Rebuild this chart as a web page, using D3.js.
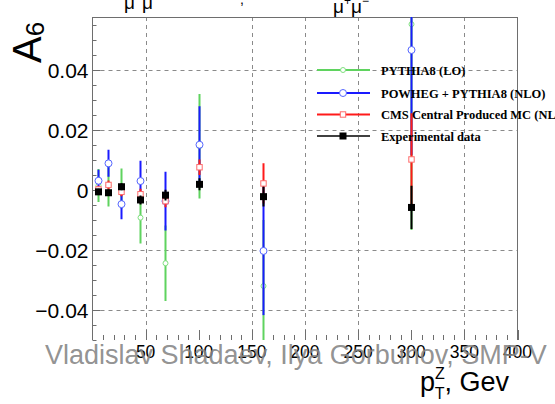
<!DOCTYPE html>
<html>
<head>
<meta charset="utf-8">
<script src="https://cdn.jsdelivr.net/npm/d3@7"></script>
<style>
  html, body { margin: 0; padding: 0; background: #fff; }
  svg { display: block; }
</style>
</head>
<body>
<svg id="chart" width="555" height="404"></svg>
<script>
// pT(Z) bin centres, GeV
const ptBins = [5, 15, 27, 45, 68, 100, 160, 300];

// A6 per bin with symmetric uncertainties
const pythiaA6  = [0.0015, 0.0015, 0.0005, -0.0092, -0.0244, 0.0146, -0.0320, 0.0553];
const pythiaErr = [0.0055, 0.0070, 0.0067, 0.0086, 0.0126, 0.0174, 0.0220, 0.0686];
const powhegA6  = [0.0031, 0.0089, -0.0047, 0.0030, -0.0037, 0.0151, -0.0203, 0.0467];
const powhegErr = [0.0037, 0.0045, 0.0050, 0.0068, 0.0098, 0.0128, 0.0214, 0.0350];
const cmsA6     = [0.0002, 0.0017, -0.0006, -0.0014, -0.0037, 0.0076, 0.0022, 0.0102];
const cmsErr    = [0.0012, 0.0015, 0.0015, 0.0018, 0.0020, 0.0026, 0.0067, 0.0154];
const dataA6    = [-0.0006, -0.0009, 0.0011, -0.0033, -0.0017, 0.0019, -0.0022, -0.0058];
const dataErr   = [0.0010, 0.0010, 0.0012, 0.0015, 0.0018, 0.0020, 0.0033, 0.0072];

const seriesNames = ["PYTHIA8 (LO)", "POWHEG + PYTHIA8 (NLO)", "CMS Central Produced MC (NLO)", "Experimental data"];

// axis ticks and labels
const xTickValues = [50, 100, 150, 200, 250, 300, 350, 400];
const xTickLabels = ["50", "100", "150", "200", "250", "300", "350", "400"];
const yTickValues = [0.04, 0.02, 0, -0.02, -0.04];
const yTickLabels = ["0.04", "0.02", "0", "\u22120.02", "\u22120.04"];
const xGridValues = [50, 150, 200, 250, 350];
const yGridValues = [0.04, 0.02, -0.02, -0.04];

const svg = d3.select("#chart");
const W = 555, H = 404;
svg.append("rect").attr("width", W).attr("height", H).attr("fill", "#fff");

const frame = { left: 92.5, right: 517.5, top: 17, bottom: 340 };
const x = d3.scaleLinear().domain([0, 400]).range([frame.left, frame.right]);
const y = d3.scaleLinear().domain([-0.05, 0.0577]).range([frame.bottom, frame.top]);

const sans = "'Liberation Sans', Arial, Helvetica, sans-serif";
const serif = "'Liberation Serif', 'Times New Roman', serif";

// grid
const grid = svg.append("g").attr("stroke", "#8a8a8a").attr("stroke-width", 1)
  .attr("stroke-dasharray", "4,4").attr("fill", "none");
grid.selectAll("line.gx").data(xGridValues).join("line")
  .attr("x1", d => Math.round(x(d)) + 0.5).attr("x2", d => Math.round(x(d)) + 0.5)
  .attr("y1", frame.top).attr("y2", frame.bottom);
grid.selectAll("line.gy").data(yGridValues).join("line")
  .attr("y1", d => Math.round(y(d)) + 0.5).attr("y2", d => Math.round(y(d)) + 0.5)
  .attr("x1", frame.left).attr("x2", frame.right);

// frame
const axisColor = "#6e6e6e";
svg.append("line").attr("x1", frame.left).attr("x2", frame.right)
  .attr("y1", frame.top + 0.5).attr("y2", frame.top + 0.5).attr("stroke", axisColor);
svg.append("line").attr("x1", frame.left).attr("x2", frame.left)
  .attr("y1", frame.top).attr("y2", frame.bottom).attr("stroke", axisColor);
svg.append("line").attr("x1", frame.right).attr("x2", frame.right)
  .attr("y1", frame.top).attr("y2", frame.bottom).attr("stroke", axisColor);

// y ticks (inward)
const yMinor = d3.range(-0.05, 0.0577, 0.005).filter(v => !yTickValues.some(t => Math.abs(t - v) < 1e-9));
svg.append("g").selectAll("line").data(yMinor).join("line")
  .attr("x1", frame.left).attr("x2", frame.left + 4)
  .attr("y1", d => Math.round(y(d)) + 0.5).attr("y2", d => Math.round(y(d)) + 0.5)
  .attr("stroke", axisColor);
svg.append("g").selectAll("line").data(yTickValues).join("line")
  .attr("x1", frame.left).attr("x2", frame.left + 8)
  .attr("y1", d => Math.round(y(d)) + 0.5).attr("y2", d => Math.round(y(d)) + 0.5)
  .attr("stroke", axisColor);
svg.append("g").selectAll("text").data(yTickValues).join("text")
  .attr("x", frame.left - 4).attr("y", d => y(d) + 7.5)
  .attr("text-anchor", "end").attr("font-family", sans).attr("font-size", 21)
  .attr("fill", "#000").text((d, i) => yTickLabels[i]);

// x ticks (inward from the bottom)
const xMinor = d3.range(10, 400, 10).filter(v => v % 50 !== 0);
svg.append("g").selectAll("line").data(xMinor).join("line")
  .attr("x1", d => Math.round(x(d)) + 0.5).attr("x2", d => Math.round(x(d)) + 0.5)
  .attr("y1", frame.bottom).attr("y2", frame.bottom - 5)
  .attr("stroke", axisColor);
svg.append("g").selectAll("line").data(xTickValues).join("line")
  .attr("x1", d => Math.round(x(d)) + 0.5).attr("x2", d => Math.round(x(d)) + 0.5)
  .attr("y1", frame.bottom).attr("y2", frame.bottom - 10)
  .attr("stroke", axisColor);
svg.append("g").selectAll("text").data(xTickValues).join("text")
  .attr("x", d => x(d)).attr("y", 358)
  .attr("text-anchor", "middle").attr("font-family", sans).attr("font-size", 17.5)
  .attr("fill", "#000").text((d, i) => xTickLabels[i]);

// data
svg.append("clipPath").attr("id", "plotArea").append("rect")
  .attr("x", frame.left).attr("y", frame.top)
  .attr("width", frame.right - frame.left).attr("height", frame.bottom - frame.top);
const plot = svg.append("g").attr("clip-path", "url(#plotArea)");

const series = [
  { vals: pythiaA6, errs: pythiaErr, color: "#5fd35f", width: 2, marker: "circle", r: 2.5, mstroke: "#7fe07f" },
  { vals: powhegA6, errs: powhegErr, color: "#1a1aff", width: 2, marker: "circle", r: 3.5, mstroke: "#5566ff" },
  { vals: cmsA6,    errs: cmsErr,    color: "#ff1a1a", width: 2, marker: "square", r: 2.7, mstroke: "#ff6a6a" },
  { vals: dataA6,   errs: dataErr,   color: "#000000", width: 2, marker: "filled", r: 3.5, mstroke: "#000" }
];

function drawMarker(g, s, cx, cy) {
  if (s.marker === "circle") {
    g.append("circle").attr("cx", cx).attr("cy", cy).attr("r", s.r)
      .attr("fill", "#fff").attr("stroke", s.mstroke).attr("stroke-width", 1);
  } else if (s.marker === "square") {
    g.append("rect").attr("x", cx - s.r).attr("y", cy - s.r)
      .attr("width", 2 * s.r).attr("height", 2 * s.r)
      .attr("fill", "#fff").attr("stroke", s.mstroke).attr("stroke-width", 1);
  } else {
    g.append("rect").attr("x", cx - s.r).attr("y", cy - s.r)
      .attr("width", 2 * s.r).attr("height", 2 * s.r).attr("fill", s.color);
  }
}

series.forEach(s => {
  const g = plot.append("g");
  ptBins.forEach((p, i) => {
    const cx = Math.round(x(p)) + 0.5;
    g.append("line").attr("x1", cx).attr("x2", cx)
      .attr("y1", y(s.vals[i] + s.errs[i])).attr("y2", y(s.vals[i] - s.errs[i]))
      .attr("stroke", s.color).attr("stroke-width", s.width);
    drawMarker(g, s, cx, y(s.vals[i]));
  });
});

// legend
const legend = svg.append("g");
const legendRows = [70, 93, 114.5, 136];
seriesNames.forEach((name, i) => {
  const s = series[i];
  const ly = legendRows[i];
  legend.append("line").attr("x1", 317).attr("x2", 370).attr("y1", ly).attr("y2", ly)
    .attr("stroke", s.color).attr("stroke-width", i === 3 ? 1.5 : 2);
  drawMarker(legend, s, 343, ly);
  legend.append("text").attr("x", 381).attr("y", ly + 4.5)
    .attr("font-family", serif).attr("font-weight", "bold").attr("font-size", 12.5)
    .attr("fill", "#000").text(name);
});

// axis titles
const yTitle = svg.append("text").attr("transform", "translate(41,63) rotate(-90)")
  .attr("font-family", sans).attr("fill", "#000");
yTitle.append("tspan").attr("font-size", 40).text("A");
yTitle.append("tspan").attr("font-size", 26).attr("dy", 3).text("6");

const xTitle = svg.append("text").attr("x", 420).attr("y", 391)
  .attr("font-family", sans).attr("font-size", 27).attr("fill", "#000");
xTitle.append("tspan").text("p");
xTitle.append("tspan").attr("font-size", 16).attr("dy", -12).text("Z");
xTitle.append("tspan").attr("font-size", 16).attr("dx", -10).attr("dy", 20).text("T");
xTitle.append("tspan").attr("dy", -8).text(", Gev");

// title fragments along the top edge
const t1 = svg.append("text").attr("x", 124).attr("y", 8.5)
  .attr("font-family", sans).attr("font-size", 19).attr("fill", "#000");
t1.append("tspan").text("\u03bc");
t1.append("tspan").attr("font-size", 12).attr("dy", -9).text("+");
t1.append("tspan").attr("dy", 9).text("\u03bc");
t1.append("tspan").attr("font-size", 12).attr("dy", -9).text("\u2212");
svg.append("text").attr("x", 240).attr("y", 4).attr("font-family", sans)
  .attr("font-size", 14).attr("fill", "#000").text(",");
const t2 = svg.append("text").attr("x", 333).attr("y", 13)
  .attr("font-family", sans).attr("font-size", 19).attr("fill", "#000");
t2.append("tspan").text("\u03bc");
t2.append("tspan").attr("font-size", 12).attr("dy", -8).text("+");
t2.append("tspan").attr("dy", 8).text("\u03bc");
t2.append("tspan").attr("font-size", 12).attr("dy", -8).text("\u2212");

// author line across the bottom
svg.append("text").attr("x", 45).attr("y", 364)
  .attr("font-family", sans).attr("font-size", 27)
  .attr("fill", "#858585").attr("fill-opacity", 0.9)
  .text("Vladislav Shadaev, Ilya Gorbunov, SMP-V");
</script>
</body>
</html>
